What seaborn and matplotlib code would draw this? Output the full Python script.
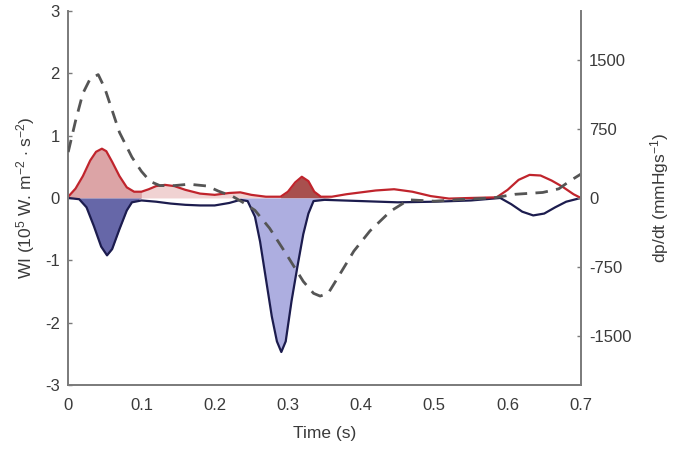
import numpy as np
import matplotlib
matplotlib.use("Agg")
import matplotlib.pyplot as plt
import seaborn as sns

# --- data ---
# forward wave intensity (red), 10^5 W m^-2 s^-2
t_fwd = [0, 0.01, 0.02, 0.03, 0.038, 0.046, 0.052, 0.06, 0.07, 0.08, 0.09, 0.1, 0.11, 0.12,
         0.132, 0.145, 0.16, 0.18, 0.2, 0.22, 0.235, 0.25, 0.27, 0.29, 0.3, 0.31, 0.319,
         0.328, 0.336, 0.345, 0.36, 0.38, 0.40, 0.42, 0.445, 0.47, 0.495, 0.52, 0.55,
         0.585, 0.6, 0.615, 0.63, 0.645, 0.66, 0.675, 0.69, 0.7]
wi_fwd = [0.02, 0.15, 0.35, 0.6, 0.74, 0.79, 0.75, 0.58, 0.35, 0.17, 0.1, 0.1, 0.14, 0.19,
          0.21, 0.19, 0.13, 0.07, 0.05, 0.08, 0.09, 0.05, 0.02, 0.02, 0.1, 0.25, 0.34,
          0.27, 0.1, 0.02, 0.02, 0.06, 0.09, 0.12, 0.14, 0.1, 0.03, -0.01, 0.0,
          0.01, 0.13, 0.29, 0.37, 0.36, 0.28, 0.18, 0.06, 0.0]

# backward wave intensity (navy)
t_bwd = [0, 0.015, 0.025, 0.035, 0.045, 0.053, 0.06, 0.07, 0.08, 0.087, 0.1, 0.12, 0.14,
         0.16, 0.18, 0.2, 0.22, 0.235, 0.245, 0.255, 0.262, 0.27, 0.278, 0.285, 0.291,
         0.297, 0.305, 0.313, 0.321, 0.328, 0.335, 0.35, 0.4, 0.45, 0.5, 0.55, 0.59,
         0.605, 0.62, 0.635, 0.65, 0.665, 0.68, 0.7]
wi_bwd = [0, -0.02, -0.15, -0.45, -0.78, -0.92, -0.82, -0.5, -0.2, -0.07, -0.04, -0.06, -0.09,
          -0.11, -0.12, -0.12, -0.08, -0.03, -0.05, -0.3, -0.7, -1.3, -1.9, -2.3, -2.47,
          -2.3, -1.65, -1.1, -0.58, -0.25, -0.05, -0.03, -0.05, -0.07, -0.06, -0.04, 0.0,
          -0.1, -0.22, -0.28, -0.25, -0.15, -0.06, 0.0]

# dp/dt (dashed), mmHg/s
t_dpdt = [0, 0.01, 0.02, 0.03, 0.041, 0.05, 0.06, 0.07, 0.087, 0.1, 0.112, 0.125, 0.145,
          0.165, 0.19, 0.205, 0.225, 0.24, 0.255, 0.275, 0.298, 0.321, 0.335, 0.344,
          0.355, 0.365, 0.39, 0.412, 0.44, 0.465, 0.5, 0.54, 0.58, 0.61, 0.648, 0.67,
          0.685, 0.7]
dpdt = [500, 840, 1140, 1300, 1345, 1195, 955, 715, 445, 290, 180, 135, 135,
        150, 130, 75, 15, -55, -135, -330, -615, -910, -1040, -1070,
        -1040, -910, -580, -360, -145, -20, -35, -15, 0, 40, 60, 100,
        185, 260]

xticks = [0, 0.1, 0.2, 0.3, 0.4, 0.5, 0.6, 0.7]
yticks_left = [-3, -2, -1, 0, 1, 2, 3]
yticks_right = [-1500, -750, 0, 750, 1500]

# --- style ---
sns.set_style("white")
plt.rcParams['font.family'] = ['Liberation Sans', 'DejaVu Sans']
plt.rcParams['mathtext.fontset'] = 'custom'
plt.rcParams['mathtext.rm'] = 'Liberation Sans'
plt.rcParams['mathtext.it'] = 'Liberation Sans'
plt.rcParams['axes.unicode_minus'] = False

RED = "#c0242c"
NAVY = "#1c1c4e"
SPINE = "#7a7a7a"
TXT = "#3a3a3a"

fig = plt.figure(figsize=(6.89, 4.53), dpi=100)
ax = fig.add_axes([0.099, 0.150, 0.744, 0.826])

tf = np.array(t_fwd)
wf = np.array(wi_fwd)
tb = np.array(t_bwd)
wb = np.array(wi_bwd)

# fills
ax.fill_between(tf, 0, wf, where=(tf <= 0.1), color="#dca4a6", lw=0, interpolate=True)
ax.fill_between(tf, 0, wf, where=(tf >= 0.1) & (tf <= 0.29), color="#f0d2d2", lw=0, interpolate=True)
ax.fill_between(tf, 0, wf, where=(tf >= 0.29) & (tf <= 0.35), color="#a8504e", lw=0, interpolate=True)
ax.fill_between(tb, 0, wb, where=(tb <= 0.09), color="#6667a8", lw=0, interpolate=True)
ax.fill_between(tb, 0, wb, where=(tb >= 0.235) & (tb <= 0.34), color="#adaee0", lw=0, interpolate=True)

sns.lineplot(x=t_bwd, y=wi_bwd, ax=ax, color=NAVY, lw=1.6, sort=False, estimator=None)
sns.lineplot(x=t_fwd, y=wi_fwd, ax=ax, color=RED, lw=1.6, sort=False, estimator=None)

ax.set_xlim(0, 0.7)
ax.set_ylim(-3, 3)
ax.set_xticks(xticks)
ax.set_xticklabels(["0", "0.1", "0.2", "0.3", "0.4", "0.5", "0.6", "0.7"])
ax.set_yticks(yticks_left)
ax.set_xlabel("Time (s)", fontsize=12.5, color=TXT, labelpad=10)
ax.set_ylabel(r"WI (10$^5$ W. m$^{-2}$ $\cdot$ s$^{-2}$)", fontsize=12.5, color=TXT, labelpad=6)

ax2 = ax.twinx()
sns.lineplot(x=t_dpdt, y=dpdt, ax=ax2, color="#555555", lw=2.0, sort=False,
             estimator=None, dashes=False)
ax2.lines[0].set_dashes([4.5, 3])
ax2.set_ylim(-2040, 2040)
ax2.set_yticks(yticks_right)
ax2.set_ylabel(r"dp/dt (mmHgs$^{-1}$)", fontsize=12.5, color=TXT, labelpad=12)

for a in (ax, ax2):
    a.spines["top"].set_visible(False)
    for s in ("left", "bottom", "right"):
        a.spines[s].set_color(SPINE)
        a.spines[s].set_linewidth(1.4)
    a.tick_params(direction="in", length=3, width=1, color=SPINE,
                  labelsize=12, labelcolor=TXT, pad=6)
ax.spines["right"].set_visible(False)
ax2.spines["left"].set_visible(False)
ax2.spines["bottom"].set_visible(False)
ax.tick_params(axis="x", pad=9)

fig.savefig("out.png", dpi=100)
